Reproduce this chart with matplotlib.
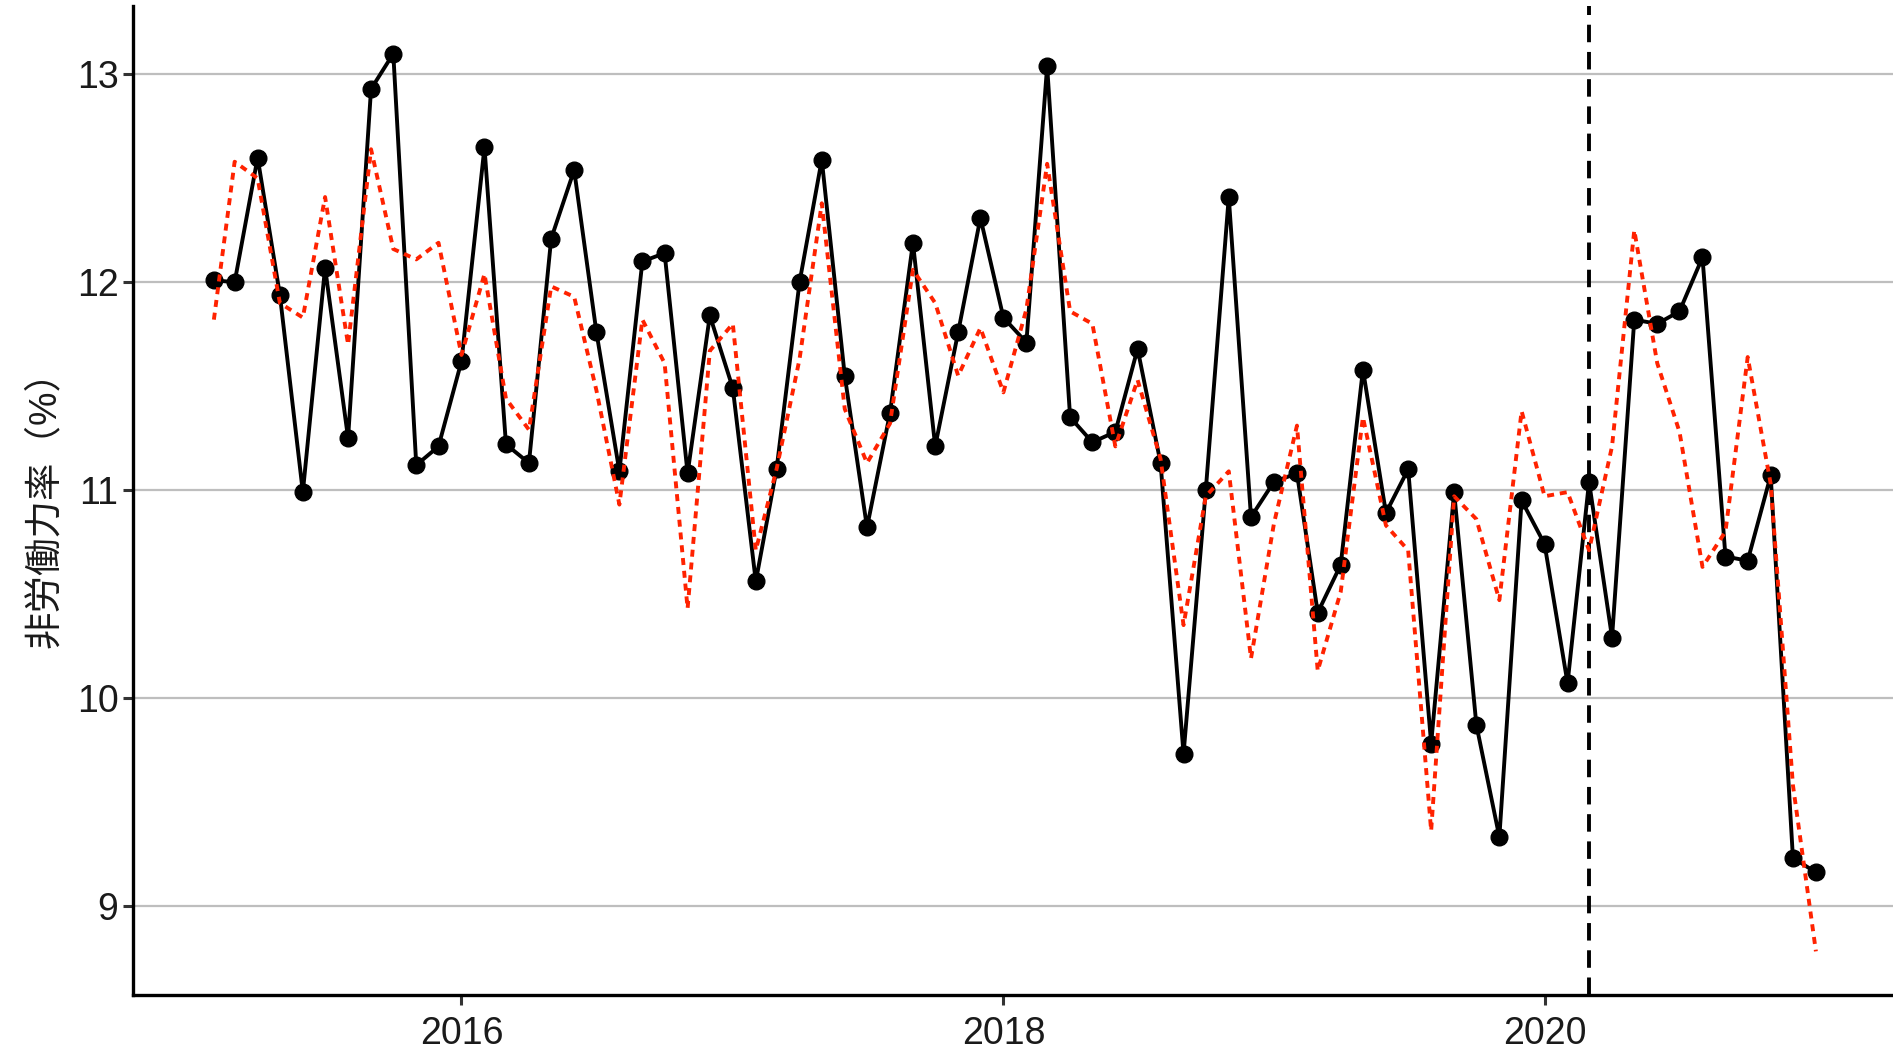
import pandas as pd
import matplotlib
matplotlib.use('Agg')
import matplotlib.pyplot as plt
import matplotlib.dates as mdates

# monthly non-labour-force rate, Feb 2015 - Jan 2021
months = pd.date_range('2015-02-01', periods=72, freq='MS')

actual = [
    12.01, 12.00, 12.60, 11.94, 10.99, 12.07, 11.25, 12.93, 13.10, 11.12, 11.21, 11.62,
    12.65, 11.22, 11.13, 12.21, 12.54, 11.76, 11.09, 12.10, 12.14, 11.08, 11.84, 11.49,
    10.56, 11.10, 12.00, 12.59, 11.55, 10.82, 11.37, 12.19, 11.21, 11.76, 12.31, 11.83,
    11.71, 13.04, 11.35, 11.23, 11.28, 11.68, 11.13, 9.73, 11.00, 12.41, 10.87, 11.04,
    11.08, 10.41, 10.64, 11.58, 10.89, 11.10, 9.78, 10.99, 9.87, 9.33, 10.95, 10.74,
    10.07, 11.04, 10.29, 11.82, 11.80, 11.86, 12.12, 10.68, 10.66, 11.07, 9.23, 9.16,
]

predicted = [
    11.82, 12.58, 12.50, 11.90, 11.83, 12.41, 11.70, 12.64, 12.16, 12.11, 12.19, 11.65,
    12.04, 11.44, 11.29, 11.98, 11.93, 11.48, 10.93, 11.82, 11.61, 10.43, 11.67, 11.80,
    10.71, 11.10, 11.63, 12.38, 11.39, 11.13, 11.32, 12.06, 11.90, 11.55, 11.78, 11.47,
    11.87, 12.57, 11.86, 11.80, 11.21, 11.53, 11.15, 10.35, 10.97, 11.09, 10.19, 10.84,
    11.31, 10.13, 10.51, 11.35, 10.83, 10.71, 9.36, 10.97, 10.86, 10.47, 11.38, 10.97,
    10.99, 10.71, 11.21, 12.25, 11.61, 11.28, 10.63, 10.80, 11.64, 11.03, 9.58, 8.78,
]

event_date = pd.Timestamp('2020-03-01')

plt.rcParams['font.family'] = ['Liberation Sans', 'Noto Sans CJK JP', 'DejaVu Sans']

fig = plt.figure(figsize=(18.93, 10.5), dpi=100)
ax = fig.add_axes([0.0703, 0.0524, 0.9297, 0.942])

ax.axvline(event_date, color='black', linestyle=(0, (4.5, 2.5)), linewidth=2.8, zorder=2)
ax.plot(months, actual, color='black', linewidth=2.8, marker='o', markersize=12, zorder=3)
ax.plot(months, predicted, color='#ff2200', linewidth=2.8, linestyle=(0, (1.8, 1.5)), zorder=4)

ax.set_ylim(8.57, 13.33)
ax.set_xlim(pd.Timestamp('2014-10-15'), pd.Timestamp('2021-04-15'))
ax.set_yticks([9, 10, 11, 12, 13])
ax.set_xticks([pd.Timestamp('2016-01-01'), pd.Timestamp('2018-01-01'), pd.Timestamp('2020-01-01')])
ax.xaxis.set_major_formatter(mdates.DateFormatter('%Y'))

ax.yaxis.grid(True, color='#bebebe', linewidth=1.6)
ax.set_axisbelow(True)
for side in ['top', 'right']:
    ax.spines[side].set_visible(False)
for side in ['left', 'bottom']:
    ax.spines[side].set_linewidth(2.4)
ax.tick_params(axis='both', labelsize=27, width=2.2, length=7, color='#333333', labelcolor='#1a1a1a')
ax.tick_params(axis='x', pad=8)
ax.set_ylabel('非労働力率（%）', fontsize=27, color='#1a1a1a', labelpad=10)

fig.savefig('out.png', dpi=100)
